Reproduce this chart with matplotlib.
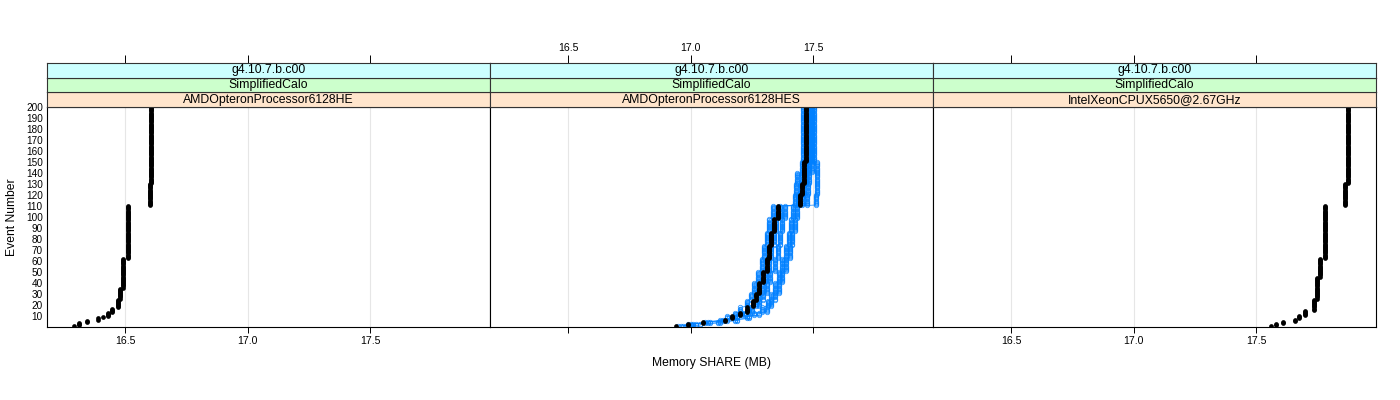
"""
Memory SHARE per event, three machines, lattice-style strips.
"""
import numpy as np
import matplotlib
matplotlib.use("Agg")
import matplotlib.pyplot as plt

plt.rcParams["font.family"] = ["Liberation Sans", "DejaVu Sans"]

# ── data (run-length encoded: memory value held for `count` events) ──────
events = np.arange(1, 201)

strip_release = "g4.10.7.b.c00"
strip_app = "SimplifiedCalo"
cpus = ["AMDOpteronProcessor6128HE", "AMDOpteronProcessor6128HES",
        "IntelXeonCPUX5650@2.67GHz"]

he_counts = [1, 3, 2, 2, 1, 4, 4, 8, 10, 27, 48, 20, 70]
he_values = [16.29, 16.31, 16.345, 16.39, 16.41, 16.43, 16.445, 16.47,
             16.48, 16.49, 16.51, 16.60, 16.605]

fine_counts = [1, 2, 2, 2, 3, 3, 5, 6, 6, 10, 10, 12, 12, 12, 12, 12,
               10, 10, 20, 50]
hes_values = [16.94, 16.99, 17.05, 17.14, 17.17, 17.20, 17.23, 17.255,
              17.265, 17.28, 17.295, 17.31, 17.32, 17.33, 17.34, 17.355,
              17.447, 17.455, 17.462, 17.472]

# other runs on the HES machine (blue)
late_counts = [1, 2, 2, 2, 3, 3, 5, 6, 6, 10, 10, 12, 12, 12, 12, 12,
               10, 10, 10, 60]
hes_runs = [
    (fine_counts, [16.96, 17.00, 17.07, 17.12, 17.15, 17.18, 17.20, 17.23,
                   17.245, 17.26, 17.275, 17.29, 17.30, 17.31, 17.32, 17.335,
                   17.44, 17.45, 17.455, 17.46]),
    (fine_counts, [16.97, 17.01, 17.08, 17.15, 17.19, 17.22, 17.25, 17.28,
                   17.295, 17.31, 17.325, 17.345, 17.355, 17.365, 17.375,
                   17.385, 17.475, 17.48, 17.485, 17.49]),
    (late_counts, [17.00, 17.04, 17.11, 17.18, 17.23, 17.26, 17.29, 17.315,
                   17.33, 17.345, 17.36, 17.375, 17.39, 17.40, 17.41, 17.42,
                   17.425, 17.43, 17.435, 17.495]),
    (fine_counts, [16.98, 17.02, 17.12, 17.19, 17.24, 17.28, 17.31, 17.33,
                   17.345, 17.36, 17.375, 17.39, 17.405, 17.415, 17.425,
                   17.435, 17.51, 17.515, 17.515, 17.505]),
    (fine_counts, [16.95, 16.99, 17.06, 17.13, 17.18, 17.21, 17.24, 17.265,
                   17.275, 17.29, 17.305, 17.32, 17.33, 17.34, 17.35, 17.365,
                   17.455, 17.46, 17.47, 17.48]),
]

x5650_counts = [1, 2, 2, 2, 3, 5, 10, 20, 17, 48, 20, 70]
x5650_values = [17.56, 17.58, 17.61, 17.66, 17.675, 17.70, 17.735, 17.75,
                17.76, 17.78, 17.865, 17.875]

x_ticks = [16.5, 17.0, 17.5]
y_ticks = list(range(10, 201, 10))
x_lim = (16.18, 17.99)
y_lim = (0.2, 200)

# ── layout (figure fractions from a 1400x400 canvas) ─────────────────────
W, H = 1400, 400
panel_x = [47, 490, 933]
panel_w = 443
plot_top, plot_bot = 107, 327
strip_h = (plot_top - 63) / 3
strip_cols = ["#ccffff", "#ccffcc", "#ffe5cc"]
blue = "#0080ff"
grid_col = "#e6e6e6"


def expand(counts, values):
    return np.repeat(values, counts)


fig = plt.figure(figsize=(14, 4), dpi=100)

black_series = [expand(he_counts, he_values),
                expand(fine_counts, hes_values),
                expand(x5650_counts, x5650_values)]

for i in range(3):
    x0 = panel_x[i] / W
    ax = fig.add_axes([x0, 1 - plot_bot / H, panel_w / W,
                       (plot_bot - plot_top) / H])
    ax.set_xlim(*x_lim)
    ax.set_ylim(*y_lim)
    for xt in x_ticks:
        ax.axvline(xt, color=grid_col, lw=0.8, zorder=0)

    if i == 1:
        for counts, vals in hes_runs:
            ax.plot(expand(counts, vals), events, color=blue, lw=0.6,
                    alpha=0.8, marker="o", ms=3.2, mfc="none", mew=0.6,
                    zorder=2)

    ax.plot(black_series[i], events, ls="none", marker="o", ms=3.4,
            color="black", mew=0, zorder=3)

    ax.set_xticks(x_ticks)
    ax.tick_params(axis="x", direction="out", length=4.5, width=0.7,
                   labelsize=7.6, pad=2, labelbottom=(i != 1))
    ax.set_yticks(y_ticks)
    ax.tick_params(axis="y", length=0, labelsize=7.2, pad=3,
                   labelleft=(i == 0))
    for sp in ax.spines.values():
        sp.set_linewidth(0.8)
        sp.set_color("black")

    # strips (bottom row = cpu, middle = app, top = release)
    labels = [cpus[i], strip_app, strip_release]
    for r in range(3):
        sy = 1 - (plot_top - r * strip_h) / H
        sax = fig.add_axes([x0, sy, panel_w / W, strip_h / H])
        sax.set_facecolor(strip_cols[2 - r])
        sax.set_xlim(*x_lim)
        sax.set_ylim(0, 1)
        sax.set_yticks([])
        sax.text(0.5, 0.5, labels[r], transform=sax.transAxes, ha="center",
                 va="center", fontsize=8.8)
        for sp in sax.spines.values():
            sp.set_linewidth(0.8)
            sp.set_color("#333333")
        if r == 2:
            sax.set_xticks(x_ticks)
            sax.tick_params(axis="x", top=True, bottom=False,
                            labelbottom=False, labeltop=(i == 1),
                            direction="out", length=5.5, width=0.7,
                            labelsize=7.6, pad=2)
        else:
            sax.set_xticks([])

fig.text((panel_x[0] + 3 * panel_w / 2) / W, 1 - 363 / H, "Memory SHARE (MB)",
         ha="center", va="center", fontsize=8.7)
fig.text(12 / W, 1 - (plot_top + plot_bot) / 2 / H, "Event Number",
         ha="center", va="center", rotation=90, fontsize=8.7)

fig.savefig("out.png", dpi=100)
